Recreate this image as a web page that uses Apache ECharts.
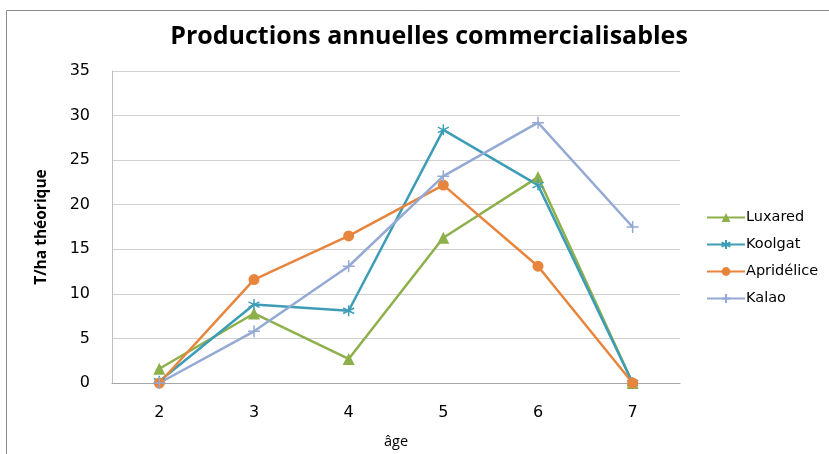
<!DOCTYPE html>
<html>
<head>
    <meta charset="utf-8">
    <script src="https://cdn.jsdelivr.net/npm/echarts@6/dist/echarts.min.js"></script>
    <style>
        body{
            margin:0;
            padding:0;
            background:#fff;
        }
    </style>
</head>
<body>
<div id="main" style="width:829px;height:454px;"></div>
<script type="text/javascript">
// données
let ages = ['2', '3', '4', '5', '6', '7'];
let luxared = [1.6, 7.8, 2.7, 16.3, 23.1, 0];
let koolgat = [0.2, 8.8, 8.1, 28.4, 22.2, 0];
let apridelice = [0, 11.6, 16.5, 22.2, 13.1, 0];
let kalao = [0, 5.8, 13.1, 23.2, 29.2, 17.5];
let yTicks = [0, 5, 10, 15, 20, 25, 30, 35];

let starPath = 'path://M5,0L5,10M0.7,2.5L9.3,7.5M0.7,7.5L9.3,2.5';
let plusPath = 'path://M5,0L5,10M0,5L10,5';

var myChart = echarts.init(document.getElementById('main'));

function serie(name, data, color, symbol, size, stroke) {
  return {
    name: name,
    type: 'line',
    data: data,
    symbol: symbol,
    symbolSize: size,
    lineStyle: { color: color, width: 2.5 },
    itemStyle: stroke
      ? { color: 'transparent', borderColor: color, borderWidth: 1.5 }
      : { color: color, borderWidth: 0 },
    color: color
  };
}

option = {
  animation: false,
  title: {
    text: 'Productions annuelles commercialisables',
    left: 424,
    textAlign: 'center',
    top: 19,
    textStyle: {
      fontFamily: 'Open Sans',
      fontWeight: 'bold',
      fontSize: 25,
      color: '#000'
    }
  },
  graphic: [{
    type: 'rect',
    shape: { x: 6.5, y: 10.5, width: 840, height: 460 },
    style: { fill: 'none', stroke: '#8c8c8c', lineWidth: 1 }
  }],
  legend: {
    orient: 'vertical',
    left: 701,
    top: 205,
    itemWidth: 38,
    itemHeight: 11,
    itemGap: 12,
    textStyle: { fontFamily: 'DejaVu Sans', fontSize: 14.5, color: '#000', padding: [0, 0, 0, -4] },
    data: ['Luxared', 'Koolgat', 'Apridélice', 'Kalao']
  },
  grid: {
    left: 112,
    right: 149,
    top: 71,
    bottom: 70
  },
  xAxis: {
    type: 'category',
    data: ages,
    name: 'âge',
    nameLocation: 'middle',
    nameGap: 51,
    nameTextStyle: { fontFamily: 'Open Sans', fontSize: 14.5, color: '#000' },
    axisTick: { show: false },
    axisLine: { lineStyle: { color: '#a6a6a6', width: 1 } },
    axisLabel: { fontFamily: 'DejaVu Sans', fontSize: 16, color: '#000', margin: 22 }
  },
  yAxis: {
    type: 'value',
    min: yTicks[0],
    max: yTicks[yTicks.length - 1],
    interval: 5,
    name: 'T/ha théorique',
    nameLocation: 'middle',
    nameGap: 62,
    nameTextStyle: { fontFamily: 'Open Sans', fontWeight: 'bold', fontSize: 15.5, color: '#000' },
    axisLine: { show: true, lineStyle: { color: '#bfbfbf', width: 1 } },
    axisTick: { show: false },
    splitLine: { lineStyle: { color: '#d0d0d0', width: 1 } },
    axisLabel: { fontFamily: 'DejaVu Sans', fontSize: 16, color: '#000', margin: 22 }
  },
  series: [
    serie('Luxared', luxared, '#8db04b', 'triangle', 12, false),
    serie('Koolgat', koolgat, '#3d9db6', starPath, 11, true),
    serie('Apridélice', apridelice, '#e8853d', 'circle', 11, false),
    serie('Kalao', kalao, '#94a9d4', plusPath, 12, true)
  ]
};
myChart.setOption(option);
</script>
</body>
</html>
